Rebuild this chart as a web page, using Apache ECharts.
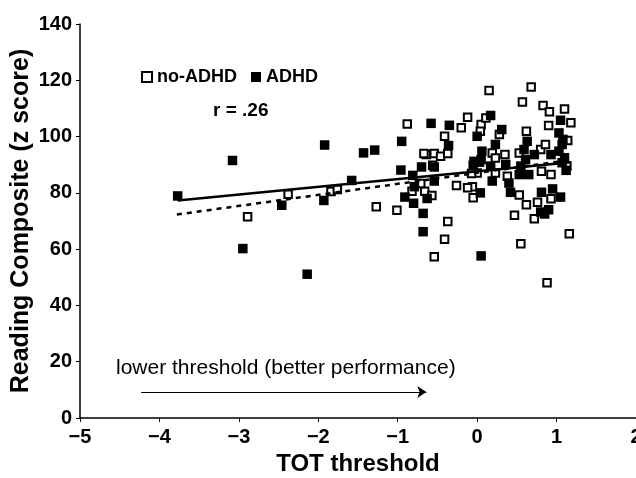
<!DOCTYPE html>
<html>
<head>
<meta charset="utf-8">
<script src="https://cdn.jsdelivr.net/npm/echarts@6/dist/echarts.min.js"></script>
<style>
html,body{margin:0;padding:0;background:#fff;}
#chart{width:636px;height:478px;}
</style>
</head>
<body>
<div id="chart"></div>
<script>
// TOT threshold vs Reading Composite
var noAdhdPoints = [
  [-2.89,71.5],[-2.38,79.5],[-1.84,80.5],[-1.76,81.2],[-1.27,75.1],[-1.01,73.8],[-0.88,104.5],
  [-0.82,80.6],[-0.66,80.6],[-0.64,93.6],[-0.71,83.3],[-0.56,89.8],[-0.57,79.1],[-0.67,94.0],
  [-0.54,94.0],[-0.46,93.0],[-0.37,94.0],[-0.41,100.1],[-0.20,103.1],[-0.12,106.9],[0.05,104.3],
  [0.04,101.9],[0.11,106.6],[0.15,116.4],[0.19,94.2],[0.23,92.4],[0.28,100.7],[0.35,93.6],
  [0.53,94.2],[0.57,112.3],[0.62,101.9],[0.68,117.6],[0.80,95.4],[0.83,111.0],[0.86,97.2],
  [0.90,103.9],[0.91,108.8],[1.10,109.8],[1.14,98.6],[1.18,104.9],[1.13,89.5],[0.93,86.5],
  [0.81,87.7],[0.38,85.9],[0.00,87.1],[0.23,87.1],[-0.07,86.9],[-0.06,82.2],[-0.12,81.8],
  [-0.26,82.6],[-0.05,78.3],[0.53,79.2],[0.62,75.8],[0.76,76.7],[0.93,77.9],[0.72,70.8],
  [0.47,72.0],[1.16,65.5],[0.55,61.9],[0.88,48.1],[-0.37,69.8],[-0.41,63.5],[-0.54,57.3]
];
var adhdPoints = [
  [-3.77,78.9],[-3.08,91.5],[-2.95,60.2],[-2.46,75.6],[-2.14,51.1],[-1.92,97.0],[-1.93,77.3],
  [-1.58,84.4],[-1.43,94.2],[-1.29,95.2],[-0.96,88.1],[-0.95,98.3],[-0.81,86.2],[-0.79,82.2],
  [-0.91,78.5],[-0.80,76.3],[-0.70,89.2],[-0.68,72.7],[-0.68,66.2],[-0.63,78.0],[-0.58,104.7],
  [-0.54,84.2],[-0.54,89.2],[-0.35,104.0],[-0.36,96.8],[-0.04,91.2],[0.05,91.8],[0.00,100.1],
  [0.06,94.8],[0.17,107.5],[0.23,97.2],[0.31,102.5],[-0.05,89.8],[0.03,90.9],[0.04,80.0],
  [0.05,57.6],[0.17,89.5],[0.19,84.2],[0.36,90.1],[0.40,83.5],[0.42,80.2],[0.53,86.5],
  [0.55,89.5],[0.59,95.4],[0.61,91.8],[0.63,98.3],[0.65,86.5],[0.72,93.6],[0.81,80.2],
  [0.80,73.2],[0.90,74.0],[0.85,72.5],[0.93,93.6],[0.95,81.4],[1.03,94.8],[1.03,101.3],
  [1.05,105.8],[1.07,97.2],[1.05,78.5],[1.07,90.7],[1.08,99.0],[1.10,92.5],[1.12,88.0]
];
// regression lines (end points)
var solidLine = [[-3.77,77.3],[1.18,90.9]];
var dashedLine = [[-3.78,72.3],[1.20,91.8]];
// arrow under the annotation
var arrowLine = [[-4.23,9.2],[-0.64,9.2]];

var xTicks = {min:-5, max:2, interval:1};
var yTicks = {min:0, max:140, interval:20};

var FONT = "'Liberation Sans', Arial, sans-serif";

var myChart = echarts.init(document.getElementById('chart'));
var option = {
  animation:false,
  backgroundColor:'#fff',
  grid:{left:80, right:0, top:24, bottom:60, outerBoundsMode:'none', containLabel:false},
  legend:{
    left:136, top:63,
    itemWidth:10, itemHeight:10, itemGap:14,
    textStyle:{fontFamily:FONT, fontWeight:'bold', fontSize:18, color:'#000'},
    data:[{name:'no-ADHD', icon:'rect'},{name:'ADHD', icon:'rect'}]
  },
  xAxis:{
    type:'value', min:xTicks.min, max:xTicks.max, interval:xTicks.interval,
    name:'TOT threshold', nameLocation:'middle', nameGap:33,
    nameTextStyle:{fontFamily:FONT, fontWeight:'bold', fontSize:24, color:'#000'},
    axisLine:{show:true, onZero:false, lineStyle:{color:'#000', width:1.5}},
    axisTick:{show:true, length:4, lineStyle:{color:'#000'}},
    splitLine:{show:false},
    axisLabel:{
      margin:9, color:'#000', fontFamily:FONT, fontWeight:'bold', fontSize:20,
      formatter:function(v){return String(v).replace('-','\u2212');}
    }
  },
  yAxis:{
    type:'value', min:yTicks.min, max:yTicks.max, interval:yTicks.interval,
    name:'Reading Composite (z score)', nameLocation:'middle', nameGap:46, nameMoveOverlap:false,
    nameTextStyle:{fontFamily:FONT, fontWeight:'bold', fontSize:25, color:'#000'},
    axisLine:{show:true, onZero:false, lineStyle:{color:'#000', width:1.5}},
    axisTick:{show:true, length:4, lineStyle:{color:'#000'}},
    splitLine:{show:false},
    axisLabel:{margin:8, color:'#000', fontFamily:FONT, fontWeight:'bold', fontSize:20}
  },
  graphic:[
    {type:'text', left:213, top:101,
     style:{text:'r = .26', fill:'#000', font:'bold 19px '+FONT}},
    {type:'text', left:116, top:358,
     style:{text:'lower threshold (better performance)', fill:'#000', font:'21px '+FONT}}
  ],
  series:[
    {
      name:'no-ADHD', type:'scatter', symbol:'rect', symbolSize:7.5, z:2,
      itemStyle:{color:'#fff', borderColor:'#000', borderWidth:2, opacity:1},
      data:noAdhdPoints
    },
    {
      name:'ADHD', type:'scatter', symbol:'rect', symbolSize:9.5, z:3,
      itemStyle:{color:'#000', opacity:1},
      data:adhdPoints
    },
    {
      type:'line', data:solidLine, symbol:'none', z:4, silent:true,
      lineStyle:{color:'#000', width:2.5}
    },
    {
      type:'line', data:dashedLine, symbol:'none', z:4, silent:true,
      lineStyle:{color:'#000', width:2.5, type:[5,5]}
    },
    {
      type:'lines', coordinateSystem:'cartesian2d', z:4, silent:true,
      symbol:['none','arrow'], symbolSize:9,
      lineStyle:{color:'#000', width:1.2, opacity:1},
      data:[{coords:arrowLine}]
    }
  ]
};
myChart.setOption(option);
</script>
</body>
</html>
